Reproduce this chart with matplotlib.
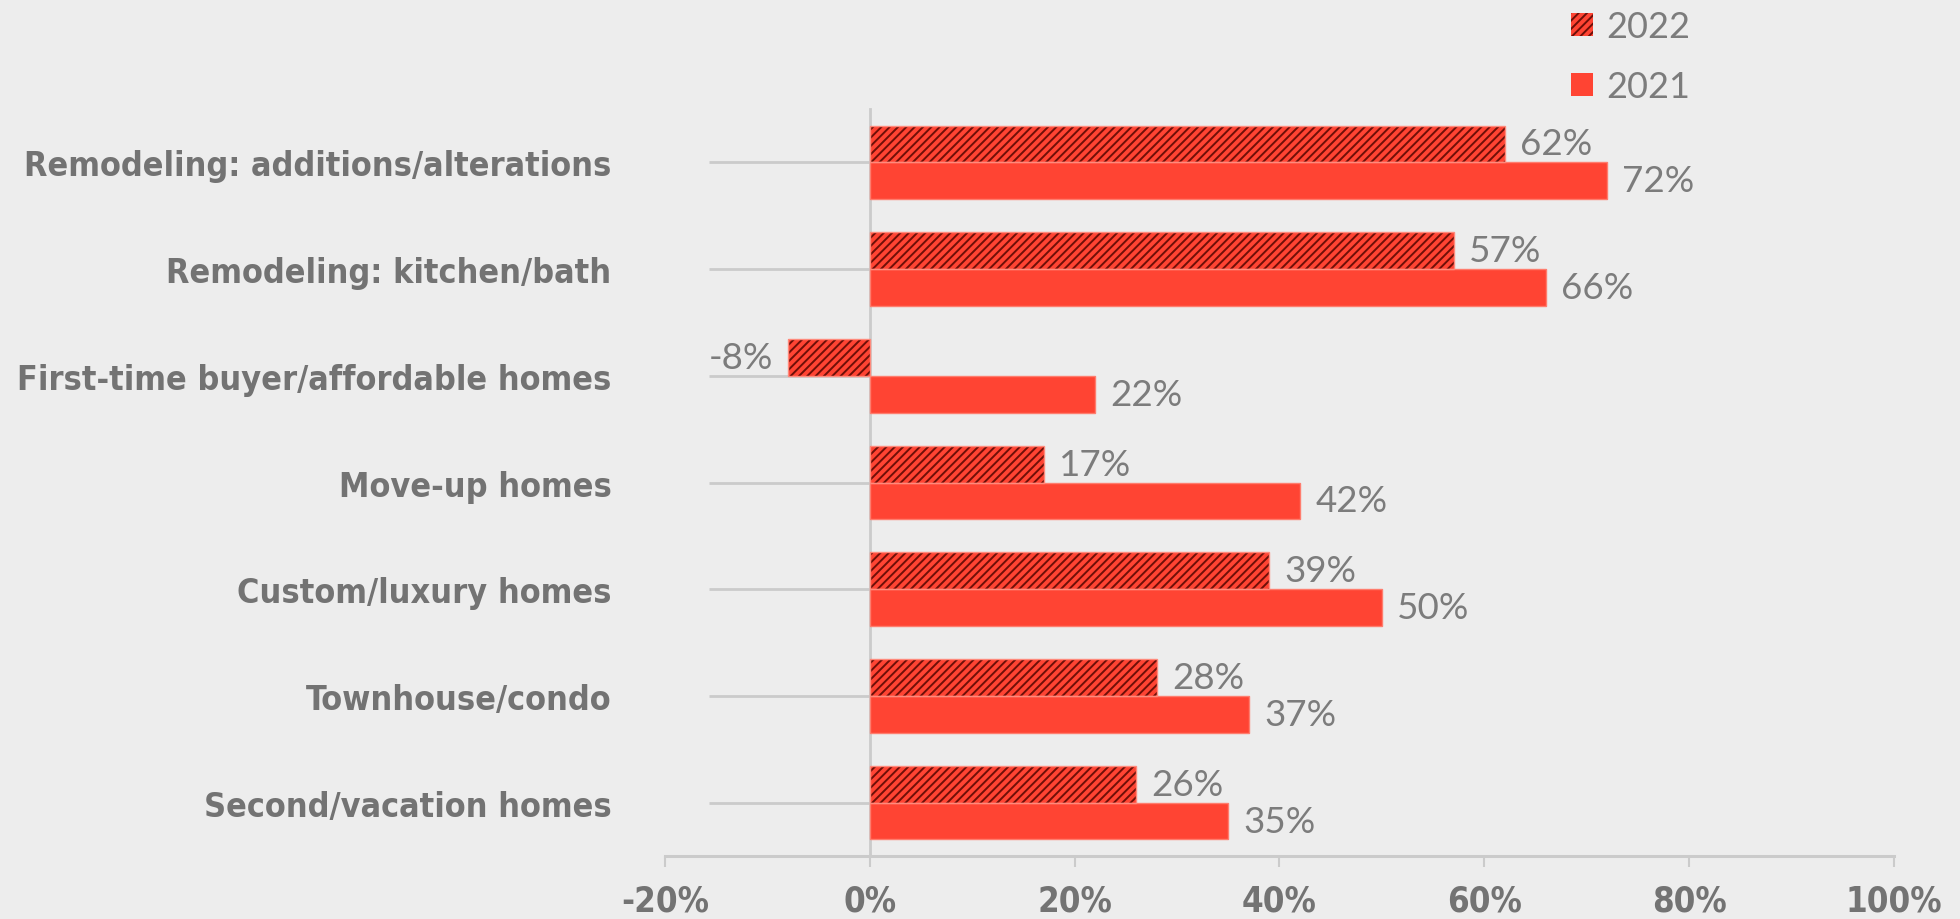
import matplotlib.pyplot as plt
from matplotlib.patches import Patch
from matplotlib.ticker import FuncFormatter

categories = ['Remodeling: additions/alterations',
              'Remodeling: kitchen/bath',
              'First-time buyer/affordable homes',
              'Move-up homes',
              'Custom/luxury homes',
              'Townhouse/condo',
              'Second/vacation homes']
vals_2022 = [62, 57, -8, 17, 39, 28, 26]
vals_2021 = [72, 66, 22, 42, 50, 37, 35]
xticks = [-20, 0, 20, 40, 60, 80, 100]

bg = '#ededed'
red = '#ff4433'
dark = '#6e0f08'
grey_txt = '#737373'
val_grey = '#7c7c7c'
line_grey = '#cbcbcb'
value_font = 'Lato'

plt.rcParams['hatch.linewidth'] = 1.4

fig = plt.figure(figsize=(19.6, 9.2), dpi=100, facecolor=bg)
ax = fig.add_axes([0.3393, 0.0685, 0.627, 0.8119], facecolor=bg)

ypos = list(range(len(categories)))
h = 0.345
y22 = [y - h / 2 for y in ypos]
y21 = [y + h / 2 for y in ypos]

ax.barh(y22, vals_2022, height=h, color=red, edgecolor=dark, hatch='////',
        linewidth=0, zorder=3)
ax.barh(y22, vals_2022, height=h, fill=False, edgecolor='#ff8a7c',
        linewidth=1, zorder=4)
ax.barh(y21, vals_2021, height=h, color=red, edgecolor='#ff7d6e',
        linewidth=1, zorder=3)

# value labels at the bar ends
for y, v in zip(y22, vals_2022):
    ax.annotate('%d%%' % v, (v, y), xytext=(11 if v >= 0 else -11, 0),
                textcoords='offset points', va='center',
                ha='left' if v >= 0 else 'right', fontsize=26.5,
                family=value_font, color=val_grey)
for y, v in zip(y21, vals_2021):
    ax.annotate('%d%%' % v, (v, y), xytext=(11, 0), textcoords='offset points',
                va='center', ha='left', fontsize=26.5, family=value_font,
                color=val_grey)

ax.set_xlim(-20, 100)
ax.set_ylim(len(categories) - 0.5, -0.5)
ax.set_xticks(xticks)
ax.xaxis.set_major_formatter(FuncFormatter(lambda x, p: '%d%%' % x))
ax.set_yticks(ypos)
ax.set_yticklabels(categories)

for s in ['top', 'right']:
    ax.spines[s].set_visible(False)
ax.spines['left'].set_position(('data', 0))
ax.spines['left'].set_color(line_grey)
ax.spines['left'].set_linewidth(2)
ax.spines['bottom'].set_color(line_grey)
ax.spines['bottom'].set_linewidth(2.2)

ax.tick_params(axis='x', direction='out', length=8, width=1.5, color=line_grey,
               pad=12, labelsize=25, labelcolor=grey_txt)
ax.tick_params(axis='y', direction='out', length=116, width=2, color=line_grey,
               pad=70, labelsize=24.5, labelcolor=grey_txt)
for lab in ax.get_xticklabels() + ax.get_yticklabels():
    lab.set_family('DejaVu Sans')
    lab.set_stretch('condensed')
    lab.set_weight('bold')

handles = [Patch(facecolor=red, edgecolor=dark, hatch='////', linewidth=0),
           Patch(facecolor=red, edgecolor=red, linewidth=0)]
leg = ax.legend(handles, ['2022', '2021'], loc='upper left',
                bbox_to_anchor=(0.785, 1.023), bbox_transform=fig.transFigure,
                frameon=False, handlelength=0.62, handleheight=0.62,
                handletextpad=0.35, labelspacing=0.75,
                prop={'family': value_font, 'size': 26})
for t in leg.get_texts():
    t.set_color(val_grey)

plt.savefig('out.png', dpi=100, facecolor=bg)
